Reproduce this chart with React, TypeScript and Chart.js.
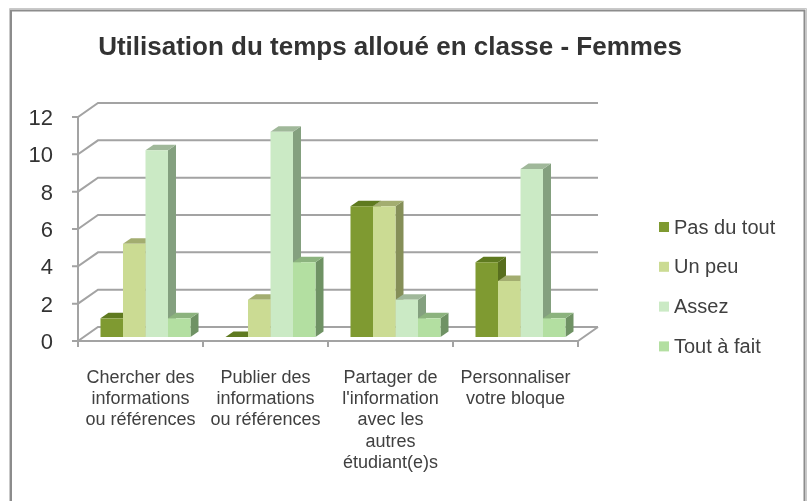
import { useEffect, useRef } from "react";
import { Chart, registerables } from "chart.js";

Chart.register(...registerables);

const categories: string[][] = [
  ["Chercher des", "informations", "ou références"],
  ["Publier des", "informations", "ou références"],
  ["Partager de", "l'information", "avec les", "autres", "étudiant(e)s"],
  ["Personnaliser", "votre bloque"],
];
const seriesNames = ["Pas du tout", "Un peu", "Assez", "Tout à fait"];
const pasDuTout = [1, 0, 7, 4];
const unPeu = [5, 2, 7, 3];
const assez = [10, 11, 2, 9];
const toutAFait = [1, 4, 1, 1];
const yMin = 0;
const yMax = 12;
const yStep = 2;
const titleText = "Utilisation du temps alloué en classe - Femmes";

const frontColors = ["#7f9a31", "#cbdb93", "#cbeac5", "#b3dfa1"];
const topColors = ["#5f7a20", "#a3ad70", "#a0b89a", "#8cb37e"];
const sideColors = ["#586e1e", "#858f58", "#84a07f", "#6f9264"];

const FONT = '"Liberation Sans", Arial, sans-serif';
const GRID = "#a3a3a3";

// 3D geometry
const DX = 20; // wall depth x
const DY = -14; // wall depth y
const BSX = 5; // bar plane shift
const BSY = -4;
const BDX = 8; // bar depth
const BDY = -5.5;

const threeD = {
  id: "threeD",
  beforeDraw(chart: any) {
    const ctx = chart.ctx as CanvasRenderingContext2D;
    ctx.save();
    ctx.strokeStyle = "#c9c9c9";
    ctx.lineWidth = 1;
    ctx.beginPath();
    ctx.moveTo(9.5, 510);
    ctx.lineTo(9.5, 8.5);
    ctx.lineTo(806.5, 8.5);
    ctx.lineTo(806.5, 510);
    ctx.stroke();
    ctx.strokeStyle = "#8c8c8c";
    ctx.lineWidth = 2;
    ctx.beginPath();
    ctx.moveTo(11, 510);
    ctx.lineTo(11, 10.5);
    ctx.lineTo(804.5, 10.5);
    ctx.lineTo(804.5, 510);
    ctx.stroke();
    ctx.restore();
  },
  beforeDatasetsDraw(chart: any) {
    const ctx = chart.ctx as CanvasRenderingContext2D;
    const a = chart.chartArea;
    const ys = chart.scales.y;
    const xs = chart.scales.x;
    ctx.save();
    ctx.strokeStyle = GRID;
    ctx.lineWidth = 2;
    ctx.lineCap = "butt";
    ys.ticks.forEach((t: any) => {
      const py = ys.getPixelForValue(t.value);
      ctx.beginPath();
      ctx.moveTo(a.left - 6, py);
      ctx.lineTo(a.left, py);
      ctx.lineTo(a.left + DX, py + DY);
      ctx.lineTo(a.right + DX, py + DY);
      ctx.stroke();
    });
    // front vertical axis
    ctx.beginPath();
    ctx.moveTo(a.left, a.top);
    ctx.lineTo(a.left, a.bottom + 6);
    ctx.stroke();
    // floor front and right edges
    ctx.beginPath();
    ctx.moveTo(a.left, a.bottom);
    ctx.lineTo(a.right, a.bottom);
    ctx.lineTo(a.right + DX, a.bottom + DY);
    ctx.stroke();
    // category ticks
    const n = categories.length;
    const step = xs.getPixelForValue(1) - xs.getPixelForValue(0);
    for (let i = 0; i <= n; i++) {
      const px = xs.getPixelForValue(0) - step / 2 + i * step;
      ctx.beginPath();
      ctx.moveTo(px, a.bottom);
      ctx.lineTo(px, a.bottom + 6);
      ctx.stroke();
    }
    ctx.restore();

    // side and top faces of bars
    ctx.save();
    const nds = chart.data.datasets.length;
    for (let j = 0; j < n; j++) {
      for (let i = 0; i < nds; i++) {
        const meta = chart.getDatasetMeta(i);
        const el = meta.data[j];
        if (!el) continue;
        const p = el.getProps(["x", "y", "base", "width"], true);
        const L = p.x - p.width / 2 + BSX;
        const R = p.x + p.width / 2 + BSX;
        const T = p.y + BSY;
        const B = p.base + BSY;
        ctx.fillStyle = sideColors[i];
        ctx.beginPath();
        ctx.moveTo(R, B);
        ctx.lineTo(R, T);
        ctx.lineTo(R + BDX, T + BDY);
        ctx.lineTo(R + BDX, B + BDY);
        ctx.closePath();
        ctx.fill();
        ctx.fillStyle = topColors[i];
        ctx.beginPath();
        ctx.moveTo(L, T);
        ctx.lineTo(R, T);
        ctx.lineTo(R + BDX, T + BDY);
        ctx.lineTo(L + BDX, T + BDY);
        ctx.closePath();
        ctx.fill();
      }
    }
    ctx.restore();
    ctx.save();
    ctx.translate(BSX, BSY);
  },
  afterDatasetsDraw(chart: any) {
    chart.ctx.restore();
  },
  afterDraw(chart: any) {
    const ctx = chart.ctx as CanvasRenderingContext2D;
    ctx.save();
    ctx.fillStyle = "#333333";
    ctx.font = `bold 26px ${FONT}`;
    ctx.textAlign = "center";
    ctx.textBaseline = "middle";
    ctx.fillText(titleText, 390, 48);
    // legend
    ctx.font = `20px ${FONT}`;
    ctx.textAlign = "left";
    chart.data.datasets.forEach((ds: any, i: number) => {
      const cy = 227 + i * 39.8;
      ctx.fillStyle = ds.backgroundColor;
      ctx.fillRect(659, cy - 5, 10, 10);
      ctx.fillStyle = "#404040";
      ctx.fillText(ds.label, 674, cy + 1);
    });
    ctx.restore();
  },
};

export default function App() {
  const ref = useRef<HTMLCanvasElement | null>(null);
  useEffect(() => {
    if (!ref.current) return;
    const series = [pasDuTout, unPeu, assez, toutAFait];
    const chart = new Chart(ref.current, {
      type: "bar",
      data: {
        labels: categories,
        datasets: series.map((d, i) => ({
          label: seriesNames[i],
          data: d,
          backgroundColor: frontColors[i],
          borderWidth: 0,
          clip: false as any,
          barPercentage: 1,
          categoryPercentage: 0.72,
        })),
      },
      options: {
        responsive: false,
        animation: false,
        layout: { padding: { left: 18, right: 231, top: 117, bottom: 20 } },
        plugins: {
          legend: { display: false },
          title: { display: false },
          tooltip: { enabled: false },
        },
        scales: {
          x: {
            grid: { display: false, drawTicks: false },
            border: { display: false },
            afterFit: (s: any) => {
              s.height = 140;
            },
            ticks: {
              autoSkip: false,
              maxRotation: 0,
              minRotation: 0,
              padding: 26,
              color: "#404040",
              font: { family: FONT, size: 18, lineHeight: 21.3 / 18 },
            },
          },
          y: {
            min: yMin,
            max: yMax,
            grid: { display: false, drawTicks: false },
            border: { display: false },
            afterFit: (s: any) => {
              s.width = 60;
            },
            ticks: {
              stepSize: yStep,
              padding: 25,
              labelOffset: 2,
              color: "#333333",
              font: { family: FONT, size: 22 },
            },
          },
        },
      },
      plugins: [threeD],
    });
    return () => chart.destroy();
  }, []);
  return (
    <div style={{ position: "fixed", left: 0, top: 0, width: 809, height: 501 }}>
      <canvas ref={ref} width={809} height={501} style={{ display: "block" }} />
    </div>
  );
}
